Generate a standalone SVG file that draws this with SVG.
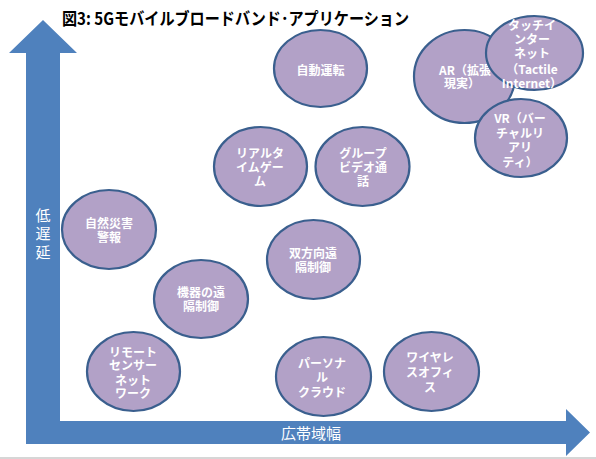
<svg xmlns="http://www.w3.org/2000/svg" width="596" height="459" viewBox="0 0 596 459">
<style>
.n ellipse{fill:#B2A1C7;stroke:#3A5F8E;stroke-width:2.2}
.n text{fill:#fff;font-family:"Noto Sans CJK JP","Noto Sans",sans-serif;font-weight:bold;font-size:12px;text-anchor:middle}
.ax{fill:#fff;font-family:"Noto Sans CJK JP",sans-serif;font-size:15px}
.title{fill:#000;font-family:"Noto Sans CJK JP",sans-serif;font-weight:bold;font-size:17px}
</style>
<rect width="596" height="459" fill="#fff"/>
<line x1="0" y1="458" x2="596" y2="458" stroke="#C8C8C8" stroke-width="1.5"/>
<text class="title" x="62" y="24.5" textLength="347" lengthAdjust="spacingAndGlyphs">図3: 5Gモバイルブロードバンド･アプリケーション</text>
<g id="axes">
<path d="M43,20 L77,53 L60,53 L60,421 L566,421 L566,409 L590,432.5 L566,456 L566,444 L26,444 L26,53 L9,53 Z" fill="#4F81BD"/>
<text class="ax" x="43" y="220.7" text-anchor="middle">低</text>
<text class="ax" x="43" y="239.2" text-anchor="middle">遅</text>
<text class="ax" x="43" y="257.7" text-anchor="middle">延</text>
<text class="ax" x="281" y="439">広帯域幅</text>
</g>
<g id="connectors"/>
<g id="n-auto" class="n"><ellipse cx="320.5" cy="68.5" rx="46.5" ry="38.5"/><text x="320.5" y="74.5">自動運転</text></g>
<g id="n-ar" class="n"><ellipse cx="464.5" cy="76.5" rx="50.5" ry="46.5"/><text x="465" y="74.5">AR（拡張</text><text x="462" y="88">現実）</text></g>
<g id="n-tactile" class="n"><ellipse cx="534.5" cy="53" rx="48.5" ry="37"/><text x="532" y="29.5">タッチイ</text><text x="532" y="44">ンター</text><text x="532" y="58">ネット</text><text x="532" y="73.5">（Tactile</text><text x="532" y="88">Internet）</text></g>
<g id="n-vr" class="n"><ellipse cx="521" cy="138" rx="46" ry="39"/><text x="520" y="122.5">VR（バー</text><text x="520" y="137.5">チャルリ</text><text x="520" y="151.5">アリ</text><text x="520" y="166.5">ティ）</text></g>
<g id="n-game" class="n"><ellipse cx="260.5" cy="166.5" rx="46.5" ry="39.5"/><text x="260" y="157.5">リアルタ</text><text x="260" y="171.5">イムゲー</text><text x="260" y="186">ム</text></g>
<g id="n-video" class="n"><ellipse cx="362.5" cy="166.5" rx="47" ry="39.5"/><text x="363" y="157.5">グループ</text><text x="363" y="171.5">ビデオ通</text><text x="363" y="186">話</text></g>
<g id="n-disaster" class="n"><ellipse cx="109" cy="229.5" rx="47" ry="39.5"/><text x="109" y="227.5">自然災害</text><text x="109" y="241.5">警報</text></g>
<g id="n-bidir" class="n"><ellipse cx="313.5" cy="259.5" rx="46.5" ry="39.5"/><text x="313" y="257.5">双方向遠</text><text x="313" y="271.5">隔制御</text></g>
<g id="n-device" class="n"><ellipse cx="201" cy="299" rx="47" ry="39"/><text x="201" y="296.5">機器の遠</text><text x="201" y="310.5">隔制御</text></g>
<g id="n-sensor" class="n"><ellipse cx="133.5" cy="371.5" rx="46.5" ry="39.5"/><text x="133" y="356.5">リモート</text><text x="133" y="370">センサー</text><text x="133" y="384.5">ネット</text><text x="133" y="398">ワーク</text></g>
<g id="n-cloud" class="n"><ellipse cx="323.5" cy="376.5" rx="47.5" ry="39.5"/><text x="322" y="367.5">パーソナ</text><text x="322" y="381.5">ル</text><text x="322" y="396.5">クラウド</text></g>
<g id="n-office" class="n"><ellipse cx="431.5" cy="371.5" rx="47.5" ry="39.5"/><text x="430" y="361.5">ワイヤレ</text><text x="430" y="376.5">スオフィ</text><text x="430" y="391.5">ス</text></g>
</svg>
